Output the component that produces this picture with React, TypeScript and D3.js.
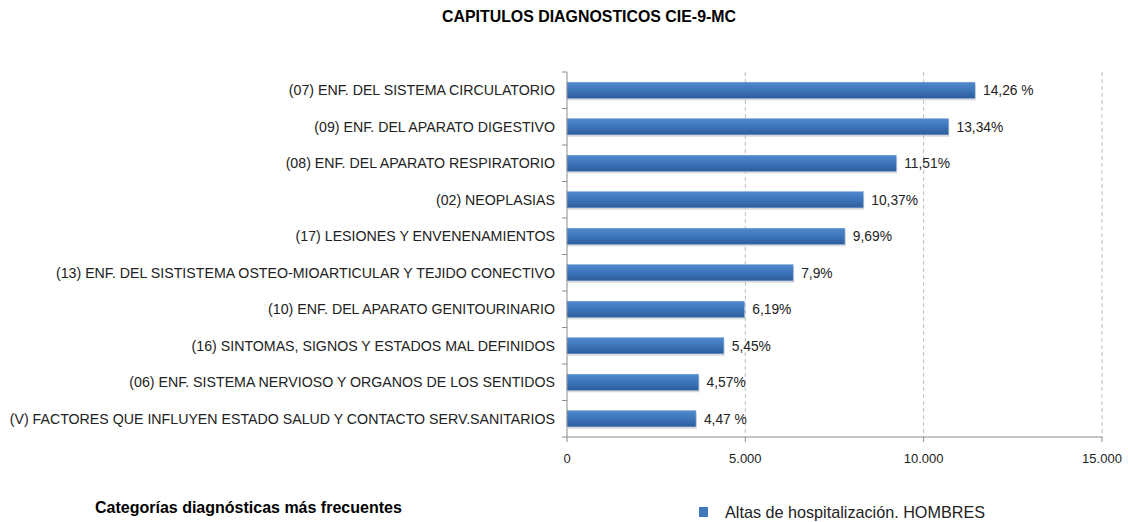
import React from "react";
import * as d3 from "d3";

const categories = [
  "(07) ENF. DEL SISTEMA CIRCULATORIO",
  "(09) ENF. DEL APARATO DIGESTIVO",
  "(08) ENF. DEL APARATO RESPIRATORIO",
  "(02) NEOPLASIAS",
  "(17) LESIONES Y ENVENENAMIENTOS",
  "(13) ENF. DEL SISTISTEMA OSTEO-MIOARTICULAR Y TEJIDO CONECTIVO",
  "(10) ENF. DEL APARATO GENITOURINARIO",
  "(16) SINTOMAS, SIGNOS Y ESTADOS MAL DEFINIDOS",
  "(06) ENF. SISTEMA NERVIOSO Y ORGANOS DE LOS SENTIDOS",
  "(V) FACTORES QUE INFLUYEN ESTADO SALUD Y CONTACTO SERV.SANITARIOS",
];
const values = [11439, 10695, 9230, 8305, 7790, 6340, 4970, 4395, 3690, 3615];
const valueLabels = ["14,26 %", "13,34%", "11,51%", "10,37%", "9,69%", "7,9%", "6,19%", "5,45%", "4,57%", "4,47 %"];
const xTicks = [0, 5000, 10000, 15000];
const xTickLabels = ["0", "5.000", "10.000", "15.000"];

export default function App() {
  const W = 1128, H = 522;
  const left = 567, right = 1102, top = 72, bottom = 437;
  const x = d3.scaleLinear().domain([0, 15000]).range([left, right]);
  const y = d3.scaleBand().domain(categories).range([top, bottom]).paddingInner(0.56).paddingOuter(0.28);
  const font = "'Liberation Sans', Arial, sans-serif";
  const bandStep = (bottom - top) / categories.length;
  return (
    <svg width={W} height={H} style={{ position: "absolute", left: 0, top: 0, background: "#fff" }}>
      <defs>
        <linearGradient id="barGrad" x1="0" y1="0" x2="0" y2="1">
          <stop offset="0%" stopColor="#5089cc" />
          <stop offset="45%" stopColor="#3f77bd" />
          <stop offset="100%" stopColor="#2c5d9c" />
        </linearGradient>
      </defs>
      <text x={589} y={22} textAnchor="middle" fontFamily={font} fontWeight="bold" fontSize={15.9} fill="#000">
        CAPITULOS DIAGNOSTICOS CIE-9-MC
      </text>
      {xTicks.slice(1).map((t) => (
        <line key={"g" + t} x1={x(t)} x2={x(t)} y1={top} y2={bottom} stroke="#bdbdbd" strokeDasharray="4,3" />
      ))}
      {categories.map((c, i) => (
        <g key={c}>
          <rect x={x(0) + 1} y={(y(c) as number) + 2} width={x(values[i]) - x(0)} height={y.bandwidth()} fill="#b8b8b8" opacity={0.5} />
          <rect x={x(0)} y={y(c) as number} width={x(values[i]) - x(0)} height={y.bandwidth()} fill="url(#barGrad)" stroke="#6d9ad4" strokeWidth={0.5} />
          <text x={x(values[i]) + 8} y={(y(c) as number) + y.bandwidth() / 2 + 5} fontFamily={font} fontSize={13.8} fill="#222">
            {valueLabels[i]}
          </text>
          <text x={555} y={(y(c) as number) + y.bandwidth() / 2 + 5} textAnchor="end" fontFamily={font} fontSize={14.2} fill="#222">
            {c}
          </text>
        </g>
      ))}
      {d3.range(categories.length + 1).map((k) => (
        <line key={"yt" + k} x1={left - 5} x2={left} y1={top + k * bandStep} y2={top + k * bandStep} stroke="#8c8c8c" />
      ))}
      <line x1={left} x2={left} y1={top} y2={bottom} stroke="#8c8c8c" />
      <line x1={left} x2={right} y1={bottom} y2={bottom} stroke="#8c8c8c" />
      {xTicks.map((t, i) => (
        <g key={"xt" + t}>
          <line x1={x(t)} x2={x(t)} y1={bottom} y2={bottom + 5} stroke="#8c8c8c" />
          <text x={x(t)} y={bottom + 26} textAnchor="middle" fontFamily={font} fontSize={13} fill="#222">
            {xTickLabels[i]}
          </text>
        </g>
      ))}
      <text x={95} y={513} fontFamily={font} fontWeight="bold" fontSize={16} fill="#000">
        Categorías diagnósticas más frecuentes
      </text>
      <rect x={699} y={507} width={9} height={10} fill="#3f77bd" />
      <text x={725} y={518} fontFamily={font} fontSize={16.2} fill="#222">
        Altas de hospitalización. HOMBRES
      </text>
    </svg>
  );
}
